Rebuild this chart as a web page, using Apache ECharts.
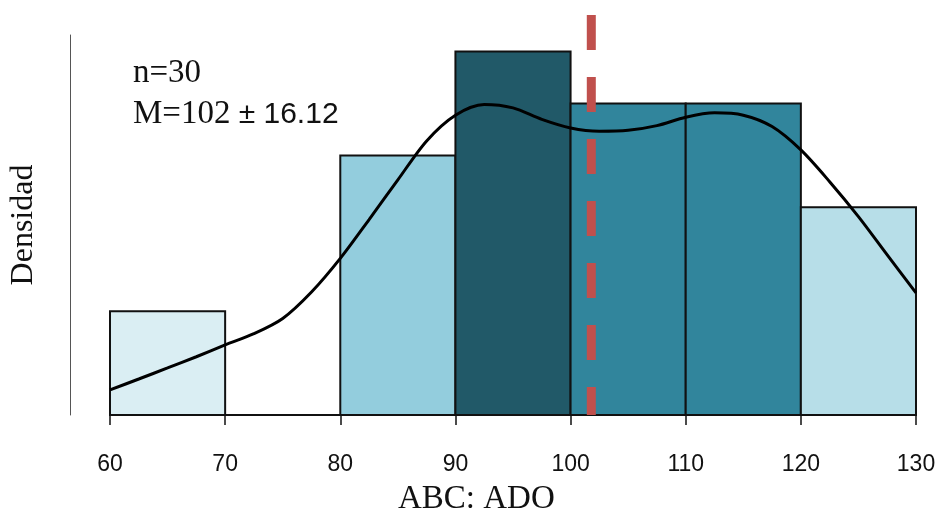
<!DOCTYPE html>
<html><head><meta charset="utf-8">
<script src="https://cdn.jsdelivr.net/npm/echarts@6/dist/echarts.min.js"></script>
<style>html,body{margin:0;padding:0;background:#fff}#c{width:940px;height:516px}</style>
</head><body><div id="c"></div>
<script>
// ---- data ----
const binStarts = [60, 70, 80, 90, 100, 110, 120];
const binEnds   = [70, 80, 90, 100, 110, 120, 130];
const binCounts = [2, 0, 5, 7, 6, 6, 4];
const nObs = 30;
const meanValue = 101.8;
const kdeX = [60, 62.5, 65, 67.5, 70, 72.5, 75, 77.5, 80, 82.5, 85, 87.5, 90, 92.5, 95, 97.5, 100, 102.5, 105, 107.5, 110, 112.5, 115, 117.5, 120, 122.5, 125, 127.5, 130];
const kdeY = [0.00161, 0.00231, 0.00302, 0.00374, 0.0045, 0.00522, 0.0062, 0.0079, 0.01006, 0.01255, 0.0151, 0.0176, 0.01925, 0.01994, 0.01972, 0.01898, 0.01843, 0.01822, 0.01828, 0.01858, 0.01912, 0.0194, 0.01925, 0.01852, 0.01702, 0.01498, 0.01274, 0.01028, 0.00784];
const xTickValues = [60, 70, 80, 90, 100, 110, 120, 130];
const annotN = 'n=30';
const annotMean = 'M=102';
const annotSD = '± 16.12';
const xName = 'ABC: ADO';
const yName = 'Densidad';

// ---- styles (by bin count) ----
const countColors = {0: '#ffffff', 2: '#daeef3', 4: '#b7dee8', 5: '#93cddd', 6: '#31859c', 7: '#215968'};

const binWidth = binEnds[0] - binStarts[0];
const histData = binStarts.map((s, i) => [s, binEnds[i], binCounts[i] / (nObs * binWidth), binCounts[i]]);
const kdeData = kdeX.map((x, i) => [x, kdeY[i]]);
const yMax = 0.0244;
const meanTop = 0.02569;

const chart = echarts.init(document.getElementById('c'), null, {renderer: 'canvas'});
chart.setOption({
  animation: false,
  title: [
    {text: annotN, left: 133, top: 57, padding: 0,
     textStyle: {fontFamily: 'Liberation Serif', fontSize: 33, fontWeight: 'normal', color: '#111'}},
    {text: '{a|' + annotMean + ' }{b|' + annotSD + '}', left: 133, top: 98, padding: 0,
     textStyle: {fontWeight: 'normal', rich: {
       a: {fontFamily: 'Liberation Serif', fontSize: 33, fontWeight: 'normal', color: '#111'},
       b: {fontFamily: 'Liberation Sans', fontSize: 30, fontWeight: 'normal', color: '#111'}}}},
    {text: xName, left: 398, top: 483, padding: 0,
     textStyle: {fontFamily: 'Liberation Serif', fontSize: 33, fontWeight: 'normal', color: '#111'}}
  ],
  grid: {left: 109, right: 24, top: 35, bottom: 101},
  xAxis: {
    type: 'value', min: 60, max: 130, interval: 10, offset: 20,
    axisLine: {show: true, lineStyle: {color: '#111', width: 1.5}},
    axisTick: {show: true, length: 10, lineStyle: {color: '#111', width: 1.5}},
    axisLabel: {fontFamily: 'Liberation Sans', fontSize: 23, color: '#111', margin: 18,
      formatter: v => xTickValues.includes(v) ? String(v) : ''},
    splitLine: {show: false}
  },
  yAxis: {
    type: 'value', min: 0, max: yMax, offset: 40,
    axisLine: {show: true, lineStyle: {color: '#555', width: 1}},
    axisTick: {show: false}, axisLabel: {show: false}, splitLine: {show: false},
    name: yName, nameLocation: 'middle', nameGap: 30,
    nameTextStyle: {fontFamily: 'Liberation Serif', fontSize: 32, color: '#111'}
  },
  series: [
    {
      type: 'custom', z: 2, data: histData, clip: false,
      renderItem: (params, api) => {
        const p0 = api.coord([api.value(0), api.value(2)]);
        const p1 = api.coord([api.value(1), 0]);
        return {
          type: 'rect',
          shape: {x: p0[0], y: p0[1], width: p1[0] - p0[0], height: p1[1] - p0[1]},
          style: {fill: countColors[api.value(3)] || '#31859c', stroke: '#111', lineWidth: 2}
        };
      }
    },
    {
      type: 'line', z: 3, clip: false, symbol: 'none',
      data: [[meanValue, meanTop], [meanValue, 0]],
      lineStyle: {color: '#c0504d', width: 9, type: [35, 27], cap: 'butt'}
    },
    {
      type: 'line', z: 4, symbol: 'none', smooth: 0.3, data: kdeData,
      lineStyle: {color: '#000', width: 3}
    }
  ]
});
</script></body></html>
